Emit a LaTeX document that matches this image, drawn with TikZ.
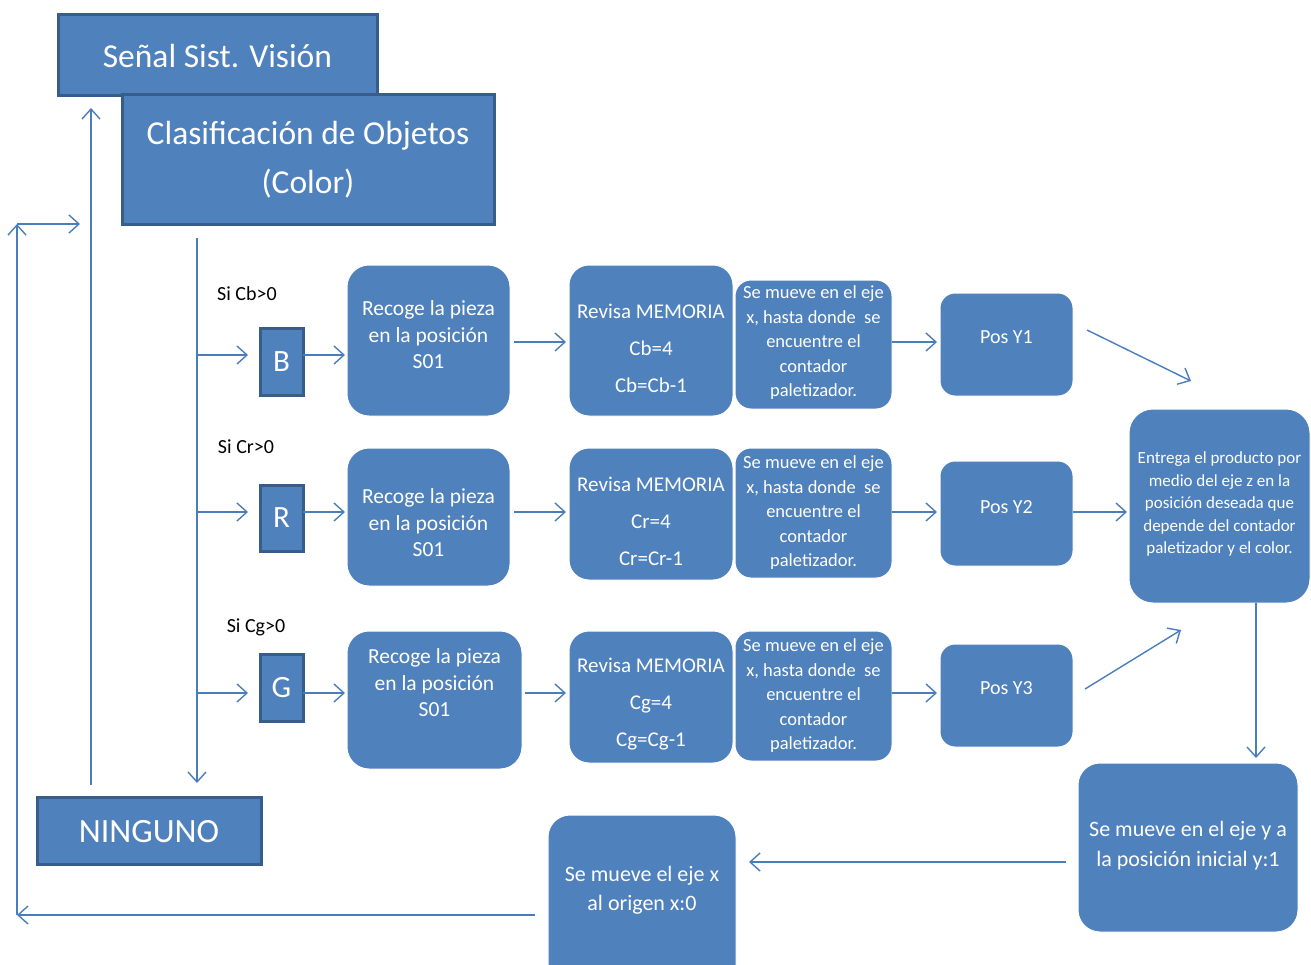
\documentclass[tikz,border=0pt]{standalone}
\usepackage{fontspec}
\setmainfont{Carlito}
\usetikzlibrary{arrows.meta}
\definecolor{boxblue}{HTML}{4F81BD}
\definecolor{boxdark}{HTML}{385D8A}
\definecolor{arrblue}{HTML}{4A7EBB}
\tikzset{
 sqbox/.style={fill=boxblue, draw=boxdark, line width=3pt, inner sep=0pt, outer sep=0pt},
 rbox/.style={fill=boxblue, draw=white, line width=1pt, rounded corners=#1, inner sep=0pt, outer sep=0pt},
 txt/.style={text=white, inner sep=0pt, align=center},
 lbl/.style={text=black, inner sep=0pt, font=\fontsize{20}{24}\selectfont},
 arr/.style={draw=arrblue, line width=1.4pt, -{Straight Barb[length=10pt,width=18pt,line width=1.4pt]}},
}
\newcommand\mybox[9]{%
 \node[#1, minimum width={#6pt-#4pt}, minimum height={#7pt-#5pt}] (#3) at ({(#4+#6)/2},{(#5+#7)/2}) {};
 \node[txt, font=#2] (#3-t) at ({(#4+#6)/2},#8) {#9};}
\begin{document}
\begin{tikzpicture}[x=1pt,y=-1pt]
\useasboundingbox (0,0) rectangle (1311,964);
\clip (0,0) rectangle (1311,964);
% title boxes
\mybox{sqbox}{\fontsize{33.5}{40}\selectfont}{sv}{58}{14}{377}{95}{56}{Señal Sist. Visión}
\mybox{sqbox}{\fontsize{33.5}{49}\selectfont}{clas}{122}{94}{494}{224}{160}{Clasificación de Objetos\\(Color)}
\mybox{sqbox}{\fontsize{34}{40}\selectfont}{ning}{37}{797}{261}{864}{832}{NINGUNO}
% letter boxes
\mybox{sqbox}{\fontsize{31}{36}\selectfont}{B}{260}{328}{303}{395}{362}{B}
\mybox{sqbox}{\fontsize{31}{36}\selectfont}{R}{260}{485}{303}{551}{518}{R}
\mybox{sqbox}{\fontsize{31}{36}\selectfont}{G}{260}{654}{303}{721}{688}{G}
% labels
\node[lbl] (lb) at (247,294) {Si Cb>0};
\node[lbl] (lr) at (246,447) {Si Cr>0};
\node[lbl] (lg) at (256,627) {Si Cg>0};
% Recoge
\mybox{rbox=22pt}{\fontsize{21.5}{26.5}\selectfont}{rec1}{347}{265}{510}{416}{335}{Recoge la pieza\\en la posición\\S01}
\mybox{rbox=22pt}{\fontsize{21.5}{26.5}\selectfont}{rec2}{347}{448}{510}{586}{523}{Recoge la pieza\\en la posición\\S01}
\mybox{rbox=22pt}{\fontsize{21.5}{26.5}\selectfont}{rec3}{347}{631}{522}{769}{683}{Recoge la pieza\\en la posición\\S01}
% Revisa
\mybox{rbox=20pt}{\fontsize{21}{26}\selectfont}{rev1}{569}{265}{733}{416}{348}{Revisa MEMORIA\\[11pt]Cb=4\\[11pt]Cb=Cb-1}
\mybox{rbox=20pt}{\fontsize{21}{26}\selectfont}{rev2}{569}{448}{733}{580}{521}{Revisa MEMORIA\\[11pt]Cr=4\\[11pt]Cr=Cr-1}
\mybox{rbox=20pt}{\fontsize{21}{26}\selectfont}{rev3}{569}{631}{733}{763}{704}{Revisa MEMORIA\\[11pt]Cg=4\\[11pt]Cg=Cg-1}
% Se mueve
\mybox{rbox=16pt}{\fontsize{18.5}{24.5}\selectfont}{se1}{735}{280}{892}{409}{343}{Se mueve en el eje\\x, hasta donde\ \ se\\encuentre el\\contador\\paletizador.}
\mybox{rbox=16pt}{\fontsize{18.5}{24.5}\selectfont}{se2}{735}{448}{892}{578}{513}{Se mueve en el eje\\x, hasta donde\ \ se\\encuentre el\\contador\\paletizador.}
\mybox{rbox=16pt}{\fontsize{18.5}{24.5}\selectfont}{se3}{735}{631}{892}{761}{696}{Se mueve en el eje\\x, hasta donde\ \ se\\encuentre el\\contador\\paletizador.}
% Pos
\mybox{rbox=15pt}{\fontsize{20}{24}\selectfont}{pos1}{940}{293}{1073}{396}{337}{Pos Y1}
\mybox{rbox=15pt}{\fontsize{20}{24}\selectfont}{pos2}{940}{461}{1073}{566}{507}{Pos Y2}
\mybox{rbox=15pt}{\fontsize{20}{24}\selectfont}{pos3}{940}{644}{1073}{747}{688}{Pos Y3}
% right side
\mybox{rbox=24pt}{\fontsize{17}{22.5}\selectfont}{ent}{1129}{409}{1310}{603}{504}{Entrega el producto por\\medio del eje z en la\\posición deseada que\\depende del contador\\paletizador y el color.}
\mybox{rbox=22pt}{\fontsize{22}{30}\selectfont}{yini}{1078}{763}{1298}{932}{846}{Se mueve en el eje y a\\la posición inicial y:1}
\mybox{rbox=22pt}{\fontsize{22}{29}\selectfont}{xori}{548}{815}{736}{990}{890}{Se mueve el eje x\\al origen x:0}
% connectors
\coordinate (vtop) at (197,238);
\coordinate (vbot) at (197,783);
\draw[arr] (vtop) -- (vbot);
\draw[arr] (vtop |- 0,355) -- ([xshift=-12pt]B.west |- 0,355);
\draw[arr] (vtop |- 0,512) -- ([xshift=-12pt]R.west |- 0,512);
\draw[arr] (vtop |- 0,693) -- ([xshift=-12pt]G.west |- 0,693);
\draw[arr] (B.east |- 0,355) -- ([xshift=-2pt]rec1.west |- 0,355);
\draw[arr] (R.east |- 0,512) -- ([xshift=-2pt]rec2.west |- 0,512);
\draw[arr] (G.east |- 0,693) -- ([xshift=-2pt]rec3.west |- 0,693);
\draw[arr] ([xshift=4pt]rec1.east |- 0,342) -- ([xshift=-3pt]rev1.west |- 0,342);
\draw[arr] ([xshift=4pt]rec2.east |- 0,512) -- ([xshift=-3pt]rev2.west |- 0,512);
\draw[arr] ([xshift=3pt]rec3.east |- 0,693) -- ([xshift=-3pt]rev3.west |- 0,693);
\draw[arr] (se1.east |- 0,342) -- ([xshift=-3pt]pos1.west |- 0,342);
\draw[arr] (se2.east |- 0,512) -- ([xshift=-3pt]pos2.west |- 0,512);
\draw[arr] (se3.east |- 0,693) -- ([xshift=-3pt]pos3.west |- 0,693);
\draw[arr] ([shift={(14,-14.5)}]pos1.east) -- ([shift={(62,-28)}]ent.north west);
\draw[arr] (pos2.east |- 0,512) -- ([xshift=-2pt]ent.west |- 0,512);
\draw[arr] ([shift={(12,-6.5)}]pos3.east) -- ([shift={(52,27)}]ent.south west);
\draw[arr] (ent.south -| 1256,0) -- ([yshift=5pt]yini.north -| 1256,0);
\draw[arr] ([xshift=-12pt]yini.west |- 0,862) -- ([xshift=13pt]xori.east |- 0,862);
\coordinate (cL) at (17,915);
\coordinate (cT) at (17,224);
\coordinate (cR) at (80,224);
\draw[arr] ([xshift=-13pt]xori.west |- cL) -- (cL);
\draw[arr] (cL) -- (cT);
\draw[arr] (cT) -- (cR);
\draw[arr] ([yshift=12pt]ning.north -| 91,0) -- ([yshift=-13pt]sv.south -| 91,0);
\end{tikzpicture}
\end{document}
